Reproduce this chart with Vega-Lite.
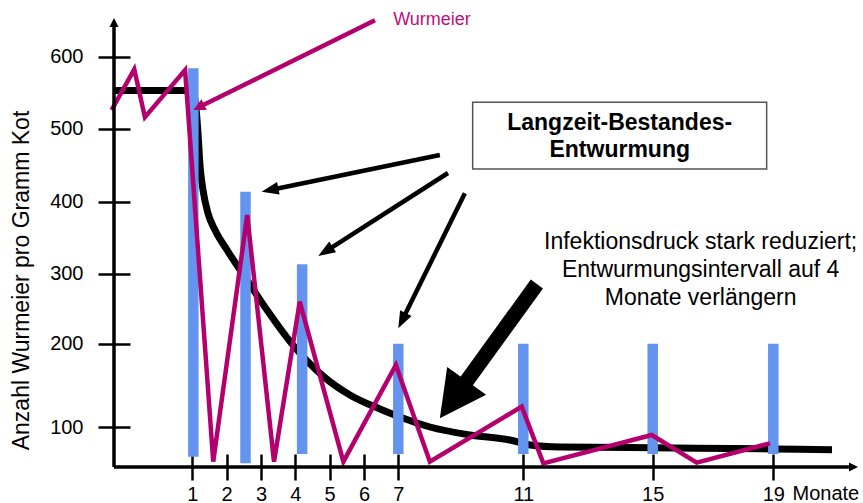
{
  "$schema": "https://vega.github.io/schema/vega-lite/v6.json",
  "width": 744,
  "height": 449,
  "autosize": {"type": "none"},
  "padding": {"left": 114, "top": 18, "right": 5, "bottom": 36},
  "background": "white",
  "config": {"view": {"stroke": null}, "font": "Liberation Sans"},
  "datasets": {
    "curve": [
      {"m": -1.28, "v": 553}, {"m": 0.79, "v": 553}, {"m": 1.03, "v": 550}, {"m": 1.12, "v": 522},
      {"m": 1.166, "v": 494}, {"m": 1.224, "v": 450}, {"m": 1.312, "v": 416}, {"m": 1.457, "v": 384},
      {"m": 1.661, "v": 360.7}, {"m": 2.011, "v": 332.9}, {"m": 2.593, "v": 291}, {"m": 3.176, "v": 248.1},
      {"m": 3.93, "v": 198.4}, {"m": 4.804, "v": 161.2}, {"m": 5.59, "v": 138.4}, {"m": 6.464, "v": 121.6},
      {"m": 7.054, "v": 112}, {"m": 8.014, "v": 100}, {"m": 9.294, "v": 89.8}, {"m": 10.57, "v": 83.4},
      {"m": 11.21, "v": 77.1}, {"m": 12.13, "v": 74.5}, {"m": 14.98, "v": 73.5}, {"m": 19, "v": 72},
      {"m": 20.94, "v": 71.1}
    ],
    "worm": [
      {"m": -1.35, "v": 526}, {"m": -0.69, "v": 582.5}, {"m": -0.38, "v": 516}, {"m": 0.79, "v": 581.5},
      {"m": 1.61, "v": 55.8}, {"m": 2.6, "v": 381.5}, {"m": 3.38, "v": 55.8}, {"m": 4.13, "v": 260},
      {"m": 5.4, "v": 55.8}, {"m": 6.93, "v": 174.4}, {"m": 8.01, "v": 55.8}, {"m": 10.95, "v": 124.4},
      {"m": 11.62, "v": 53.7}, {"m": 14.97, "v": 89.8}, {"m": 16.46, "v": 54.5}, {"m": 18.89, "v": 79.2}
    ],
    "bars": [
      {"m": 1.03, "top": 584, "bottom": 62}, {"m": 2.55, "top": 413.7, "bottom": 53.7},
      {"m": 4.2, "top": 313, "bottom": 65.6}, {"m": 7, "top": 200, "bottom": 65.6},
      {"m": 11, "top": 200, "bottom": 65.6}, {"m": 15, "top": 200, "bottom": 65.6},
      {"m": 19, "top": 200, "bottom": 65.6}
    ],
    "arrows": [
      {"id": "A1", "m": 8.33, "v": 464, "m2": 3.31, "v2": 416.4, "mt": 3.02, "vt": 413.7},
      {"id": "A2", "m": 8.59, "v": 439.3, "m2": 4.92, "v2": 332.1, "mt": 4.67, "vt": 324.6},
      {"id": "A3", "m": 9.13, "v": 411.5, "m2": 7.14, "v2": 234.9, "mt": 7.0, "vt": 222},
      {"id": "A4", "m": 11.42, "v": 285.3, "m2": 8.89, "v2": 139.7, "mt": 8.33, "vt": 110.4},
      {"id": "W", "m": 6.32, "v": 651, "m2": 1.23, "v2": 530.8, "mt": 1.03, "vt": 526},
      {"id": "Y", "m": -1.28, "v": 49, "m2": -1.28, "v2": 642, "mt": -1.28, "vt": 654},
      {"id": "X", "m": -1.28, "v": 49, "m2": 21.5, "v2": 49, "mt": 21.8, "vt": 49}
    ],
    "box": [{"m": 9.38, "m2": 18.78, "v": 536.7, "v2": 444.8}],
    "texts": [
      {"kind": "worm", "text": "Wurmeier", "m": 6.85, "v": 644},
      {"kind": "box", "text": "Langzeit-Bestandes-", "m": 13.98, "v": 498.2},
      {"kind": "box", "text": "Entwurmung", "m": 13.98, "v": 460.8},
      {"kind": "note", "text": "Infektionsdruck stark reduziert;", "m": 16.59, "v": 333.9},
      {"kind": "note", "text": "Entwurmungsintervall auf 4", "m": 16.59, "v": 294.9},
      {"kind": "note", "text": "Monate verlängern", "m": 16.59, "v": 255.3}
    ]
  },
  "layer": [
    {
      "data": {"name": "curve"},
      "mark": {"type": "line", "color": "black", "strokeWidth": 7, "interpolate": "monotone"},
      "encoding": {
        "x": {"field": "m", "type": "quantitative",
          "scale": {"type": "linear", "domain": [-1.28, 1, 7, 11, 15, 19, 21.8], "range": [0, 78.3, 284.3, 409.3, 538.7, 659.3, 744], "zero": false, "nice": false},
          "axis": {"values": [1, 2, 3, 4, 5, 6, 7, 11, 15, 19], "tickSize": 26, "offset": -13, "domain": false, "grid": false,
            "tickColor": "black", "tickWidth": 2.5, "labelFontSize": 20, "labelColor": "black", "labelPadding": 4,
            "labelOverlap": false, "labelFlush": false, "title": "Monate", "titleFontSize": 20, "titleFontWeight": "normal",
            "titleColor": "black", "titleX": 678, "titleY": 39, "titleAlign": "left", "titleBaseline": "middle", "titleAnchor": "start"}},
        "y": {"field": "v", "type": "quantitative",
          "scale": {"type": "linear", "domain": [49, 100, 200, 300, 400, 500, 600, 654], "range": [449, 409, 325.7, 255.7, 183.7, 110.7, 38.7, 0], "zero": false, "nice": false},
          "axis": {"values": [100, 200, 300, 400, 500, 600], "tickSize": 32, "offset": -16, "domain": false, "grid": false,
            "tickColor": "black", "tickWidth": 2.5, "labelFontSize": 20, "labelColor": "black", "labelPadding": 15,
            "labelOverlap": false, "labelFlush": false, "title": "Anzahl Wurmeier pro Gramm Kot", "titleFontSize": 23,
            "titleFontWeight": "normal", "titleColor": "black", "titleX": -109, "titleY": 262, "titleAlign": "center",
            "titleBaseline": "middle", "titleAngle": 270}}
      }
    },
    {
      "data": {"name": "bars"},
      "mark": {"type": "rule", "color": "#6494f0", "strokeWidth": 10.5, "strokeCap": "butt"},
      "encoding": {
        "x": {"field": "m", "type": "quantitative"},
        "y": {"field": "top", "type": "quantitative"},
        "y2": {"field": "bottom"}
      }
    },
    {
      "data": {"name": "worm"},
      "mark": {"type": "line", "color": "#b4006c", "strokeWidth": 4.5},
      "encoding": {
        "x": {"field": "m", "type": "quantitative"},
        "y": {"field": "v", "type": "quantitative"}
      }
    },
    {
      "data": {"name": "arrows"},
      "transform": [{"filter": "datum.id === 'X' || datum.id === 'Y'"}],
      "mark": {"type": "rule", "color": "black", "strokeWidth": 3.5},
      "encoding": {
        "x": {"field": "m", "type": "quantitative"}, "y": {"field": "v", "type": "quantitative"},
        "x2": {"field": "m2"}, "y2": {"field": "v2"}
      }
    },
    {
      "data": {"name": "arrows"},
      "transform": [{"filter": "datum.id === 'A1' || datum.id === 'A2' || datum.id === 'A3'"}],
      "mark": {"type": "rule", "color": "black", "strokeWidth": 4.5},
      "encoding": {
        "x": {"field": "m", "type": "quantitative"}, "y": {"field": "v", "type": "quantitative"},
        "x2": {"field": "m2"}, "y2": {"field": "v2"}
      }
    },
    {
      "data": {"name": "arrows"},
      "transform": [{"filter": "datum.id === 'A4'"}],
      "mark": {"type": "rule", "color": "black", "strokeWidth": 15},
      "encoding": {
        "x": {"field": "m", "type": "quantitative"}, "y": {"field": "v", "type": "quantitative"},
        "x2": {"field": "m2"}, "y2": {"field": "v2"}
      }
    },
    {
      "data": {"name": "arrows"},
      "transform": [{"filter": "datum.id === 'W'"}],
      "mark": {"type": "rule", "color": "#b4006c", "strokeWidth": 4.5},
      "encoding": {
        "x": {"field": "m", "type": "quantitative"}, "y": {"field": "v", "type": "quantitative"},
        "x2": {"field": "m2"}, "y2": {"field": "v2"}
      }
    },
    {
      "data": {"name": "arrows"},
      "transform": [{"filter": "datum.id === 'A1'"}],
      "mark": {"type": "point", "shape": "M0,0L-2,-0.75L-2,0.75Z", "size": 289, "filled": true, "color": "black", "opacity": 1, "angle": 168.4},
      "encoding": {"x": {"field": "mt", "type": "quantitative"}, "y": {"field": "vt", "type": "quantitative"}}
    },
    {
      "data": {"name": "arrows"},
      "transform": [{"filter": "datum.id === 'A2'"}],
      "mark": {"type": "point", "shape": "M0,0L-2,-0.75L-2,0.75Z", "size": 289, "filled": true, "color": "black", "opacity": 1, "angle": 147.4},
      "encoding": {"x": {"field": "mt", "type": "quantitative"}, "y": {"field": "vt", "type": "quantitative"}}
    },
    {
      "data": {"name": "arrows"},
      "transform": [{"filter": "datum.id === 'A3'"}],
      "mark": {"type": "point", "shape": "M0,0L-2,-0.75L-2,0.75Z", "size": 289, "filled": true, "color": "black", "opacity": 1, "angle": 116.3},
      "encoding": {"x": {"field": "mt", "type": "quantitative"}, "y": {"field": "vt", "type": "quantitative"}}
    },
    {
      "data": {"name": "arrows"},
      "transform": [{"filter": "datum.id === 'A4'"}],
      "mark": {"type": "point", "shape": "M0,0L-2,-1.04L-2,1.04Z", "size": 2116, "filled": true, "color": "black", "opacity": 1, "angle": 125.6},
      "encoding": {"x": {"field": "mt", "type": "quantitative"}, "y": {"field": "vt", "type": "quantitative"}}
    },
    {
      "data": {"name": "arrows"},
      "transform": [{"filter": "datum.id === 'W'"}],
      "mark": {"type": "point", "shape": "M0,0L-2,-1L-2,1Z", "size": 144, "filled": true, "color": "#b4006c", "opacity": 1, "angle": 153.7},
      "encoding": {"x": {"field": "mt", "type": "quantitative"}, "y": {"field": "vt", "type": "quantitative"}}
    },
    {
      "data": {"name": "arrows"},
      "transform": [{"filter": "datum.id === 'Y'"}],
      "mark": {"type": "point", "shape": "M0,0L-2,-1L-2,1Z", "size": 81, "filled": true, "color": "black", "opacity": 1, "angle": 270},
      "encoding": {"x": {"field": "mt", "type": "quantitative"}, "y": {"field": "vt", "type": "quantitative"}}
    },
    {
      "data": {"name": "arrows"},
      "transform": [{"filter": "datum.id === 'X'"}],
      "mark": {"type": "point", "shape": "M0,0L-2,-1L-2,1Z", "size": 81, "filled": true, "color": "black", "opacity": 1, "angle": 0},
      "encoding": {"x": {"field": "mt", "type": "quantitative"}, "y": {"field": "vt", "type": "quantitative"}}
    },
    {
      "data": {"name": "box"},
      "mark": {"type": "rect", "fill": "white", "stroke": "#555555", "strokeWidth": 1.5},
      "encoding": {
        "x": {"field": "m", "type": "quantitative"}, "x2": {"field": "m2"},
        "y": {"field": "v", "type": "quantitative"}, "y2": {"field": "v2"}
      }
    },
    {
      "data": {"name": "texts"},
      "transform": [{"filter": "datum.kind === 'worm'"}],
      "mark": {"type": "text", "align": "left", "baseline": "alphabetic", "fontSize": 18, "color": "#c0107a"},
      "encoding": {"x": {"field": "m", "type": "quantitative"}, "y": {"field": "v", "type": "quantitative"}, "text": {"field": "text"}}
    },
    {
      "data": {"name": "texts"},
      "transform": [{"filter": "datum.kind === 'box'"}],
      "mark": {"type": "text", "align": "center", "baseline": "alphabetic", "fontSize": 23, "fontWeight": "bold", "color": "black"},
      "encoding": {"x": {"field": "m", "type": "quantitative"}, "y": {"field": "v", "type": "quantitative"}, "text": {"field": "text"}}
    },
    {
      "data": {"name": "texts"},
      "transform": [{"filter": "datum.kind === 'note'"}],
      "mark": {"type": "text", "align": "center", "baseline": "alphabetic", "fontSize": 23, "color": "black"},
      "encoding": {"x": {"field": "m", "type": "quantitative"}, "y": {"field": "v", "type": "quantitative"}, "text": {"field": "text"}}
    }
  ]
}
